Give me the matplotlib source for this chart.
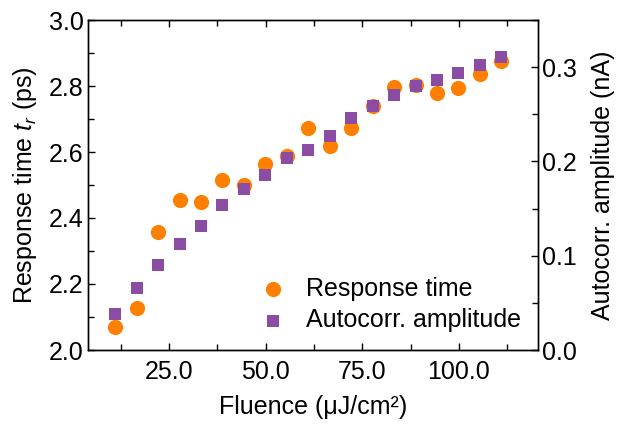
import numpy as np
import matplotlib.pyplot as plt
from matplotlib.ticker import MultipleLocator, FormatStrFormatter

plt.rcParams['font.family'] = ['Liberation Sans', 'DejaVu Sans']
plt.rcParams['mathtext.fontset'] = 'custom'
plt.rcParams['mathtext.it'] = 'Liberation Sans:italic'
plt.rcParams['mathtext.rm'] = 'Liberation Sans'

fluence = [11.1, 16.6, 22.2, 27.7, 33.3, 38.8, 44.4, 49.9, 55.5, 61.0, 66.6,
           72.1, 77.7, 83.2, 88.8, 94.3, 99.9, 105.4, 111.0]
resp_time = [2.07, 2.127, 2.357, 2.455, 2.448, 2.515, 2.50, 2.563, 2.588, 2.673,
             2.618, 2.673, 2.74, 2.797, 2.803, 2.779, 2.794, 2.836, 2.876]
autocorr = [0.038, 0.066, 0.0905, 0.112, 0.131, 0.154, 0.171, 0.186, 0.204, 0.2116,
            0.227, 0.246, 0.259, 0.2705, 0.280, 0.286, 0.294, 0.302, 0.3105]

fs = 18

fig = plt.figure(figsize=(6.18, 4.24), dpi=100)
ax = fig.add_axes([88/618, 1-350/424, 450/618, 330/424])
ax2 = ax.twinx()

c1 = '#ff8000'
c2 = '#8b4ca3'
h1 = ax.scatter(fluence, resp_time, s=120, marker='o', color=c1, lw=0, zorder=3)
h2 = ax2.scatter(fluence, autocorr, s=80, marker='s', color=c2, lw=0, zorder=3)

ax.set_xlim(4, 120.5)
ax.set_ylim(2.0, 3.0)
ax2.set_ylim(0, 0.35)

ax.xaxis.set_major_locator(MultipleLocator(25))
ax.xaxis.set_minor_locator(MultipleLocator(12.5))
ax.xaxis.set_major_formatter(FormatStrFormatter('%.1f'))
ax.yaxis.set_major_locator(MultipleLocator(0.2))
ax.yaxis.set_minor_locator(MultipleLocator(0.1))
ax.yaxis.set_major_formatter(FormatStrFormatter('%.1f'))
ax2.yaxis.set_major_locator(MultipleLocator(0.1))
ax2.yaxis.set_minor_locator(MultipleLocator(0.05))
ax2.yaxis.set_major_formatter(FormatStrFormatter('%.1f'))

for a in (ax, ax2):
    a.tick_params(which='both', direction='in', labelsize=fs, pad=3)
    a.tick_params(which='major', length=5, width=1)
    a.tick_params(which='minor', length=4, width=1)
    for sp in a.spines.values():
        sp.set_linewidth(1)
ax.tick_params(axis='x', which='both', top=True, pad=7)

ax.set_xlabel('Fluence (μJ/cm²)', fontsize=fs, labelpad=8)
ax.set_ylabel('Response time $t_r$ (ps)', fontsize=fs, labelpad=7)
ax2.set_ylabel('Autocorr. amplitude (nA)', fontsize=fs, labelpad=10)

ax2.legend([h1, h2], ['Response time', 'Autocorr. amplitude'], loc='lower right',
           frameon=False, fontsize=fs, handletextpad=0.3, borderaxespad=0.4,
           labelspacing=0.3, borderpad=0.3)

fig.savefig('out.png', dpi=100)
